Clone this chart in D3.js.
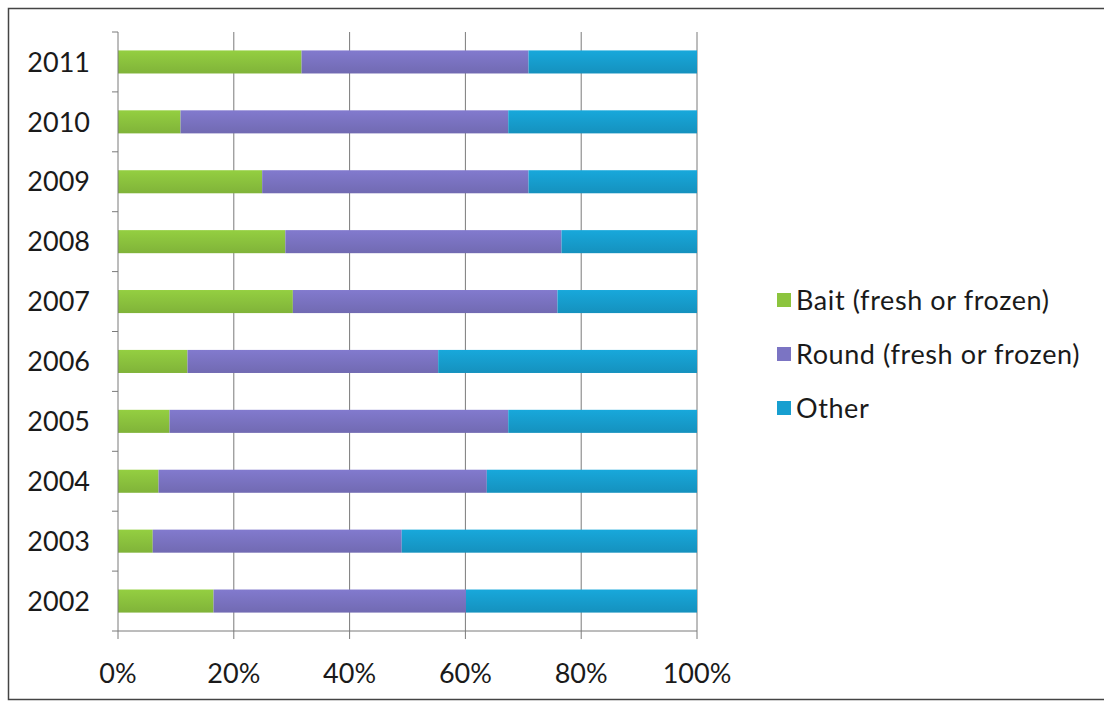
<!DOCTYPE html>
<html>
<head>
<meta charset="utf-8">
<script src="https://cdn.jsdelivr.net/npm/d3@7/dist/d3.min.js"></script>
<style>
  html, body { margin: 0; padding: 0; background: #fff; }
  svg { display: block; }
  text { font-family: Lato, "Open Sans", sans-serif; fill: #1a1a1a; }
</style>
</head>
<body>
<svg id="chart" width="1104" height="701"></svg>
<script>
// Share of landings by product form, per year (percent of total)
const years = ["2002", "2003", "2004", "2005", "2006", "2007", "2008", "2009", "2010", "2011"];
const bait  = [16.5,  6.0,  7.0,  8.9, 12.0, 30.2, 28.9, 24.9, 10.8, 31.7];
const round = [43.6, 43.0, 56.7, 58.5, 43.3, 45.7, 47.7, 46.0, 56.6, 39.2];
const other = [39.9, 51.0, 36.3, 32.6, 44.7, 24.1, 23.4, 29.1, 32.6, 29.1];

const seriesNames = ["Bait (fresh or frozen)", "Round (fresh or frozen)", "Other"];
const seriesKeys = ["bait", "round", "other"];
const colors = ["#8cc43e", "#7b74c3", "#179fd0"];
const xTicks = [0, 0.2, 0.4, 0.6, 0.8, 1.0];

const rows = years.map((y, i) => ({ year: y, bait: bait[i], round: round[i], other: other[i] }));

const svg = d3.select("#chart");

// outer frame of the figure
svg.append("rect")
  .attr("x", 8.5).attr("y", 8.5)
  .attr("width", 1200).attr("height", 691)
  .attr("fill", "none").attr("stroke", "#444").attr("stroke-width", 1.5);

const plot = { left: 118, right: 697, top: 32, bottom: 631 };

const x = d3.scaleLinear().domain([0, 1]).range([plot.left, plot.right]);
// 2011 at the top, 2002 at the bottom
const y = d3.scaleBand().domain(years.slice().reverse())
  .range([plot.top, plot.bottom]).paddingInner(0.615).paddingOuter(0.3075);

// stacked shares normalised to 100%
const stack = d3.stack().keys(seriesKeys).offset(d3.stackOffsetExpand);
const layers = stack(rows);

// vertical gridlines
svg.append("g")
  .selectAll("line")
  .data(xTicks.slice(1))
  .join("line")
  .attr("x1", d => x(d)).attr("x2", d => x(d))
  .attr("y1", plot.top).attr("y2", plot.bottom)
  .attr("stroke", "#7a7a7a").attr("stroke-width", 1);

// soft vertical shading on each series, like the office-style bars
const defs = svg.append("defs");
colors.forEach((c, i) => {
  const g = defs.append("linearGradient").attr("id", "grad" + i)
    .attr("x1", 0).attr("x2", 0).attr("y1", 0).attr("y2", 1);
  g.append("stop").attr("offset", "0%").attr("stop-color", d3.color(c).brighter(0.15));
  g.append("stop").attr("offset", "100%").attr("stop-color", d3.color(c).darker(0.25));
});

svg.append("g")
  .selectAll("g")
  .data(layers)
  .join("g")
  .attr("fill", (d, i) => "url(#grad" + i + ")")
  .selectAll("rect")
  .data(d => d)
  .join("rect")
  .attr("x", d => x(d[0]))
  .attr("width", d => x(d[1]) - x(d[0]))
  .attr("y", d => y(d.data.year))
  .attr("height", y.bandwidth());

// category axis (left) with ticks between categories
const boundaries = d3.range(years.length + 1).map(i => plot.top + i * (plot.bottom - plot.top) / years.length);
const yAxis = svg.append("g");
yAxis.append("line")
  .attr("x1", plot.left).attr("x2", plot.left)
  .attr("y1", plot.top).attr("y2", plot.bottom)
  .attr("stroke", "#7a7a7a");
yAxis.selectAll("line.tick")
  .data(boundaries)
  .join("line").attr("class", "tick")
  .attr("x1", plot.left - 6).attr("x2", plot.left)
  .attr("y1", d => d).attr("y2", d => d)
  .attr("stroke", "#7a7a7a");
yAxis.selectAll("text")
  .data(years)
  .join("text")
  .attr("x", 90)
  .attr("y", d => y(d) + y.bandwidth() / 2)
  .attr("dy", "0.36em")
  .attr("text-anchor", "end")
  .attr("font-size", 27)
  .text(d => d);

// value axis (bottom)
const xAxis = svg.append("g");
xAxis.append("line")
  .attr("x1", plot.left).attr("x2", plot.right)
  .attr("y1", plot.bottom).attr("y2", plot.bottom)
  .attr("stroke", "#7a7a7a");
xAxis.selectAll("line.tick")
  .data(xTicks)
  .join("line").attr("class", "tick")
  .attr("x1", d => x(d)).attr("x2", d => x(d))
  .attr("y1", plot.bottom).attr("y2", plot.bottom + 8)
  .attr("stroke", "#7a7a7a");
const fmt = d3.format(".0%");
xAxis.selectAll("text")
  .data(xTicks)
  .join("text")
  .attr("x", d => x(d))
  .attr("y", 673)
  .attr("dy", "0.36em")
  .attr("text-anchor", "middle")
  .attr("font-size", 27)
  .text(d => fmt(d));

// legend
const legend = svg.append("g");
const legendRows = legend.selectAll("g")
  .data(seriesNames)
  .join("g")
  .attr("transform", (d, i) => `translate(777, ${300 + i * 54})`);
legendRows.append("rect")
  .attr("x", 0).attr("y", -7)
  .attr("width", 14).attr("height", 14)
  .attr("fill", (d, i) => colors[i]);
legendRows.append("text")
  .attr("x", 19).attr("y", 0)
  .attr("dy", "0.36em")
  .attr("font-size", 27)
  .attr("letter-spacing", 0.6)
  .text(d => d);
</script>
</body>
</html>
